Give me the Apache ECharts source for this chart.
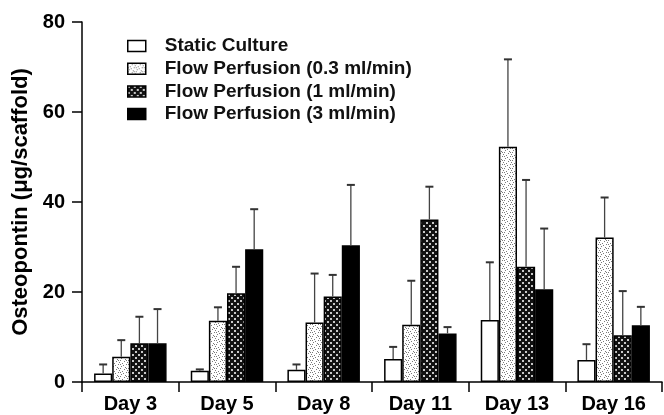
<!DOCTYPE html>
<html>
<head>
<meta charset="utf-8">
<script src="https://cdn.jsdelivr.net/npm/echarts@6/dist/echarts.min.js"></script>
<style>
  html, body { margin: 0; padding: 0; background: #fff; }
  #chart { width: 664px; height: 415px; }
</style>
</head>
<body>
<div id="chart"></div>
<script>
// ---- data ----
const categories = ['Day 3', 'Day 5', 'Day 8', 'Day 11', 'Day 13', 'Day 16'];
const seriesNames = ['Static Culture', 'Flow Perfusion (0.3 ml/min)', 'Flow Perfusion (1 ml/min)', 'Flow Perfusion (3 ml/min)'];
const staticMean   = [1.9, 2.5, 2.7, 5.1, 13.8, 4.9];
const staticSD     = [2.0, 0.3, 1.2, 2.7, 12.8, 3.5];
const flow03Mean   = [5.6, 13.6, 13.2, 12.7, 52.3, 32.1];
const flow03SD     = [3.7, 3.0, 10.9, 9.8, 19.4, 8.9];
const flow1Mean    = [8.6, 19.7, 19.0, 36.1, 25.6, 10.4];
const flow1SD      = [5.9, 5.9, 4.8, 7.3, 19.3, 9.8];
const flow3Mean    = [8.6, 29.5, 30.4, 10.8, 20.6, 12.6];
const flow3SD      = [7.6, 8.9, 13.4, 1.4, 13.5, 4.1];
const yTicks = { min: 0, max: 80, interval: 20 };

const means = [staticMean, flow03Mean, flow1Mean, flow3Mean];
const sds = [staticSD, flow03SD, flow1SD, flow3SD];

// ---- patterns ----
function makeDotted() {
  const c = document.createElement('canvas');
  c.width = 8; c.height = 8;
  const g = c.getContext('2d');
  g.fillStyle = '#ffffff'; g.fillRect(0, 0, 8, 8);
  g.fillStyle = '#7a7a7a';
  const pts = [[0,0],[4,1],[2,3],[6,4],[1,6],[5,7],[7,2],[3,5],[6,0],[0,4]];
  pts.forEach(p => g.fillRect(p[0], p[1], 1, 1));
  return c;
}
function makeChecker() {
  const c = document.createElement('canvas');
  c.width = 6; c.height = 6;
  const g = c.getContext('2d');
  g.fillStyle = '#111111'; g.fillRect(0, 0, 6, 6);
  g.fillStyle = '#c8c8c8';
  g.fillRect(0, 0, 2, 2);
  g.fillRect(3, 3, 2, 2);
  return c;
}
const fills = [
  '#ffffff',
  { image: makeDotted(), repeat: 'repeat' },
  { image: makeChecker(), repeat: 'repeat' },
  '#000000'
];

const FONT = '"Liberation Sans", Arial, Helvetica, sans-serif';
const nSeries = seriesNames.length;
const catGapRatio = 0.25;

const series = [];
seriesNames.forEach((name, i) => {
  series.push({
    name: name,
    type: 'bar',
    data: means[i],
    barGap: '0%',
    barCategoryGap: '25%',
    itemStyle: { color: fills[i], borderColor: '#000', borderWidth: 1.5 },
    z: 2
  });
});
seriesNames.forEach((name, i) => {
  series.push({
    type: 'custom',
    name: name + ' err',
    data: means[i].map((m, k) => [k, m, m + sds[i][k]]),
    z: 3,
    silent: true,
    renderItem: function (params, api) {
      const band = api.size([1, 0])[0];
      const barW = band * (1 - catGapRatio) / nSeries;
      const base = api.coord([api.value(0), api.value(1)]);
      const top = api.coord([api.value(0), api.value(2)]);
      const cx = base[0] - band * (1 - catGapRatio) / 2 + barW * (i + 0.5);
      const capHalf = 4;
      return {
        type: 'group',
        children: [
          { type: 'line', shape: { x1: cx, y1: base[1], x2: cx, y2: top[1] },
            style: { stroke: '#444', lineWidth: 1.3 } },
          { type: 'line', shape: { x1: cx - capHalf, y1: top[1], x2: cx + capHalf, y2: top[1] },
            style: { stroke: '#333', lineWidth: 2 } }
        ]
      };
    },
    encode: { x: 0, y: 2 }
  });
});

const chart = echarts.init(document.getElementById('chart'), null, { renderer: 'canvas' });
chart.setOption({
  animation: false,
  backgroundColor: '#ffffff',
  grid: { left: 82, right: 2, top: 22, bottom: 33, containLabel: false },
  legend: {
    data: seriesNames,
    orient: 'vertical',
    left: 122,
    top: 31,
    itemWidth: 18,
    itemHeight: 11,
    itemGap: 2.7,
    icon: 'rect',
    itemStyle: { borderColor: '#000', borderWidth: 1.5 },
    textStyle: { fontFamily: FONT, fontWeight: 'bold', fontSize: 19, color: '#111', lineHeight: 20, padding: [0, 0, 0, 14] }
  },
  xAxis: {
    type: 'category',
    data: categories,
    axisLine: { lineStyle: { color: '#000', width: 1.5 } },
    axisTick: { show: true, length: 10, lineStyle: { color: '#000', width: 1.5 } },
    axisLabel: { fontFamily: FONT, fontWeight: 'bold', fontSize: 20, color: '#000', margin: 12 },
    splitLine: { show: false }
  },
  yAxis: {
    type: 'value',
    min: yTicks.min, max: yTicks.max, interval: yTicks.interval,
    name: 'Osteopontin (\u03bcg/scaffold)',
    nameLocation: 'middle',
    nameGap: 48,
    nameTextStyle: { fontFamily: FONT, fontWeight: 'bold', fontSize: 22, color: '#000' },
    axisLine: { show: true, lineStyle: { color: '#000', width: 1.5 } },
    axisTick: { show: true, length: 10, lineStyle: { color: '#000', width: 1.5 } },
    axisLabel: { fontFamily: FONT, fontWeight: 'bold', fontSize: 20, color: '#000', margin: 17 },
    splitLine: { show: false }
  },
  series: series
});
</script>
</body>
</html>
